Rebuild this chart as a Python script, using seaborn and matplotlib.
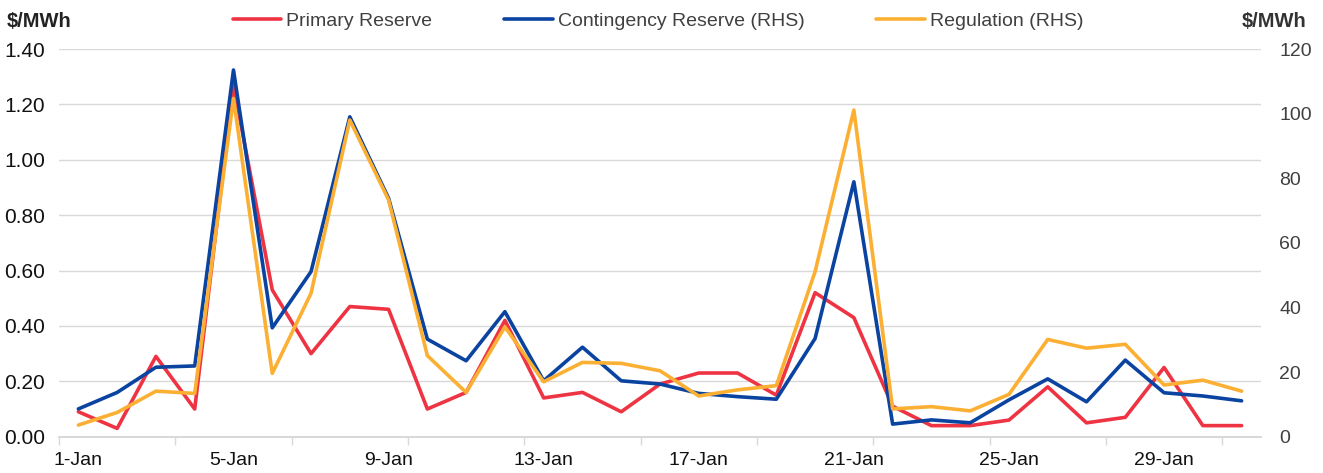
import numpy as np
import pandas as pd
import matplotlib
matplotlib.use("Agg")
import matplotlib.pyplot as plt
import seaborn as sns

# Daily values, January
days = [f"{d}-Jan" for d in range(1, 32)]
primary_reserve = [0.09, 0.03, 0.29, 0.10, 1.27, 0.53, 0.30, 0.47, 0.46, 0.10,
                   0.16, 0.42, 0.14, 0.16, 0.09, 0.19, 0.23, 0.23, 0.15, 0.52,
                   0.43, 0.11, 0.04, 0.04, 0.06, 0.18, 0.05, 0.07, 0.25, 0.04,
                   0.04]
contingency_reserve = [8.6, 13.7, 21.5, 21.9, 113.5, 33.7, 51.1, 99.0, 73.8, 30.2,
                       23.5, 38.7, 17.3, 27.7, 17.3, 16.3, 13.4, 12.4, 11.6, 30.4,
                       78.9, 3.9, 5.2, 4.3, 11.4, 17.9, 10.8, 23.7, 13.6, 12.6,
                       11.1]
regulation = [3.6, 7.5, 14.1, 13.4, 104.7, 19.6, 44.4, 98.0, 73.3, 25.1,
              13.7, 34.0, 17.0, 23.0, 22.7, 20.4, 12.6, 14.5, 15.8, 51.1,
              101.1, 8.6, 9.3, 8.0, 13.1, 30.1, 27.4, 28.6, 16.0, 17.5,
              14.1]

df = pd.DataFrame({"day": np.arange(len(days)),
                   "Primary Reserve": primary_reserve,
                   "Contingency Reserve (RHS)": contingency_reserve,
                   "Regulation (RHS)": regulation})

sns.set_theme(style="white")
plt.rcParams["font.family"] = ["Liberation Sans", "DejaVu Sans"]

red = "#EE3443"
blue = "#0A43A0"
orange = "#FBB034"
grid_c = "#D9D9D9"

fig = plt.figure(figsize=(13.23, 4.73), dpi=100)
ax = fig.add_axes([59 / 1323, 36.3 / 473, 1202 / 1323, 387.7 / 473])
ax2 = ax.twinx()

sns.lineplot(data=df, x="day", y="Primary Reserve", ax=ax, color=red,
             linewidth=2.6, label="Primary Reserve", legend=False)
sns.lineplot(data=df, x="day", y="Contingency Reserve (RHS)", ax=ax2, color=blue,
             linewidth=2.6, label="Contingency Reserve (RHS)", legend=False)
sns.lineplot(data=df, x="day", y="Regulation (RHS)", ax=ax2, color=orange,
             linewidth=2.6, label="Regulation (RHS)", legend=False)

ax.set_xlim(-0.5, len(days) - 0.5)
ax.set_ylim(0, 1.4)
ax2.set_ylim(0, 120)
ax.set_yticks(np.arange(0, 1.41, 0.2))
ax.set_yticklabels([f"{v:.2f}" for v in np.arange(0, 1.41, 0.2)])
ax2.set_yticks(np.arange(0, 121, 20))

ax.set_xticks(np.arange(0, len(days), 4))
ax.set_xticklabels(days[::4])
ax.set_xticks(np.arange(-0.5, len(days), 3), minor=True)
ax.tick_params(axis="x", which="major", length=0, pad=11, labelsize=14, labelcolor="#111111")
ax.tick_params(axis="x", which="minor", length=6, width=1, color=grid_c, bottom=True)
ax.tick_params(axis="y", length=0, pad=10, labelsize=15, labelcolor="#111111")
ax2.tick_params(axis="y", length=0, pad=13, labelsize=14, labelcolor="#404040")

ax.grid(axis="y", color=grid_c, linewidth=1)
ax2.grid(False)
for a in (ax, ax2):
    for s in ("top", "left", "right"):
        a.spines[s].set_visible(False)
    a.spines["bottom"].set_color(grid_c)
    a.set_xlabel("")
    a.set_ylabel("")

fig.text(7 / 1323, 1 - 21 / 473, "$/MWh", fontsize=14.5, fontweight="bold",
         color="#222222", va="center", ha="left")
fig.text(1306 / 1323, 1 - 21 / 473, "$/MWh", fontsize=14.5, fontweight="bold",
         color="#333333", va="center", ha="right")

handles = ax.get_lines()[:1] + ax2.get_lines()[:2]
labels = ["Primary Reserve", "Contingency Reserve (RHS)", "Regulation (RHS)"]
fig.legend(handles, labels, loc="center", bbox_to_anchor=(658 / 1323, 1 - 21 / 473),
           ncol=3, frameon=False, fontsize=14, handlelength=2.5, handletextpad=0.25,
           columnspacing=3.7, labelcolor="#404040")

fig.savefig("out.png", dpi=100)
